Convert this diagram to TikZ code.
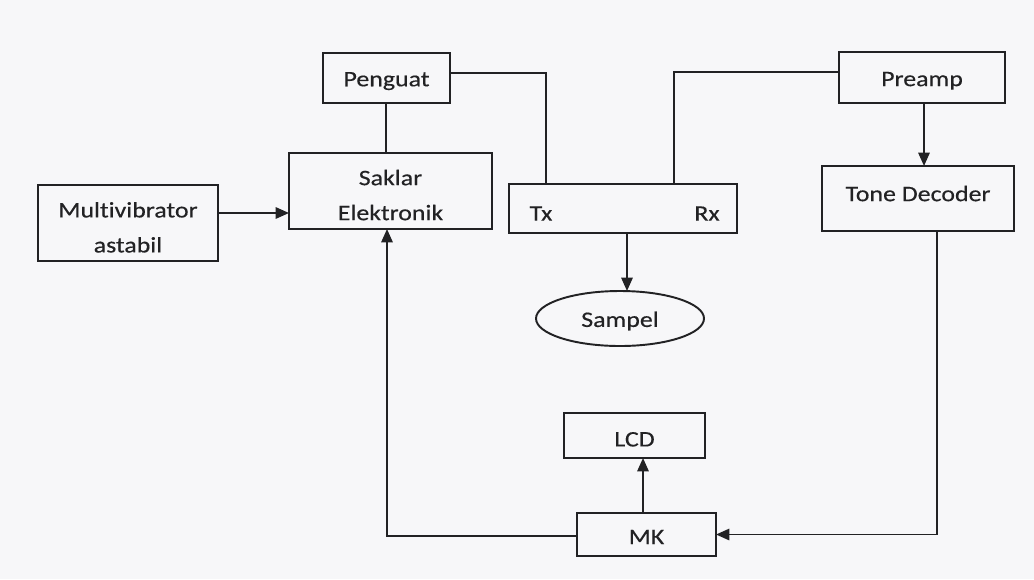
\documentclass[tikz,border=0pt]{standalone}
\usepackage{fontspec}
\setmainfont{Carlito}[FakeStretch=1.17, FakeBold=0.4, Ligatures=NoCommon]
\usetikzlibrary{arrows.meta,shapes.geometric}
\definecolor{paper}{RGB}{247,247,249}
\definecolor{ink}{RGB}{34,34,36}
\tikzset{
  box/.style={draw=ink, line width=1.45pt, rectangle, inner sep=0pt, outer sep=0pt, align=center,
    text=ink, font=\fontsize{16.6}{26.25}\selectfont, text height=10.7pt, text depth=0pt},
  box2/.style={draw=ink, line width=1.45pt, rectangle, inner sep=0pt, outer sep=0pt, align=center,
    text=ink, font=\fontsize{16.6}{26.25}\selectfont},
  oval/.style={draw=ink, line width=1.45pt, ellipse, inner sep=0pt, outer sep=0pt,
    text=ink, font=\fontsize{16.6}{26.25}\selectfont, text height=12.6pt, text depth=0pt},
  txt/.style={inner sep=0pt, text=ink, font=\fontsize{16.6}{26.25}\selectfont, text height=10.7pt, text depth=0pt},
  wire/.style={draw=ink, line width=1.45pt},
  arr/.style={wire, -{Triangle[length=10pt, width=8.5pt]}}
}
\begin{document}
\begin{tikzpicture}[x=0.75pt, y=-0.75pt]
\fill[paper] (0,0) rectangle (1034,579);
\useasboundingbox (0,0) rectangle (1034,579);
% nodes
\node[box, minimum width=95.25pt, minimum height=37.5pt, text height=12.4pt] (peng) at (386.5,78) {Penguat};
\node[box2, minimum width=152.25pt, minimum height=57pt] (sak) at (390.5,191) {\rule{0pt}{17.6pt}Saklar\\Elektronik};
\node[box2, minimum width=135pt, minimum height=57pt] (multi) at (128,223) {\rule{0pt}{18pt}Multivibrator\\astabil};
\node[box, minimum width=171pt, minimum height=36.75pt] (txrx) at (623,208.5) {};
\node[txt] (tx) at (541,213.5) {Tx};
\node[txt] (rx) at (707,213.5) {Rx};
\node[box, minimum width=124.5pt, minimum height=38.25pt, text height=12.9pt] (pre) at (922,77.5) {Preamp};
\node[box, minimum width=144pt, minimum height=48.75pt, text depth=6.75pt] (td) at (918,198.5) {Tone Decoder};
\node[oval, minimum width=126pt, minimum height=41.25pt] (sam) at (620,318.5) {Sampel};
\node[box, minimum width=105.75pt, minimum height=33.75pt, text height=16.4pt] (lcd) at (634.5,435.5) {LCD};
\node[box, minimum width=104.25pt, minimum height=32.25pt, text height=14.4pt] (mk) at (646.5,534.5) {MK};
% connectors
\draw[wire] ([xshift=-0.5pt]peng.south) -- ([xshift=-0.5pt]peng.south |- sak.north);
\draw[wire] ([yshift=3.75pt]peng.east) -| ([xshift=27.75pt]txrx.north west);
\draw[wire] ([xshift=-47.25pt]txrx.north east) |- ([yshift=4.125pt]pre.west);
\draw[arr] ([xshift=1.5pt]pre.south) -- ([xshift=1.5pt]pre.south |- td.north);
\draw[arr] ([yshift=7.5pt]multi.east) -- ([yshift=7.5pt]multi.east -| sak.west);
\draw[arr] ([xshift=3pt]txrx.south) -- ([xshift=3pt]txrx.south |- sam.north);
\draw[arr] ([xshift=14.25pt]td.south) |- (mk.east);
\draw[arr] ([yshift=-1pt]mk.west) -| ([xshift=-2.625pt]sak.south);
\draw[arr] ([xshift=-2.625pt]mk.north) -- ([xshift=-2.625pt]mk.north |- lcd.south);
\end{tikzpicture}
\end{document}
